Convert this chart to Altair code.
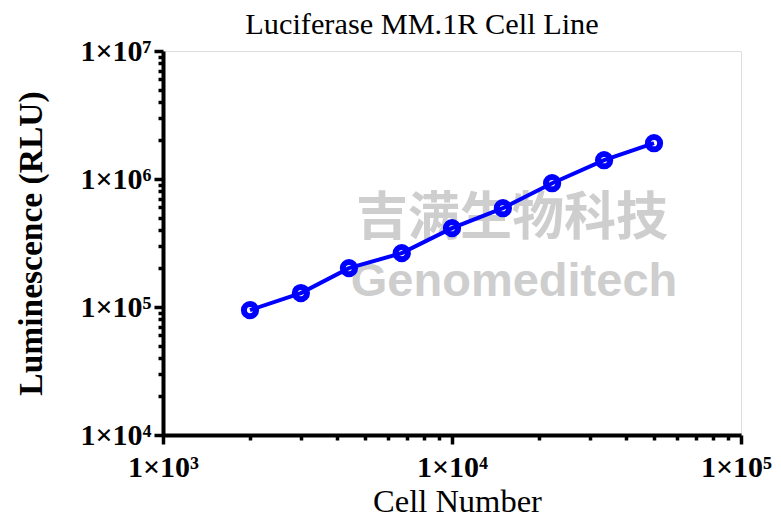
import altair as alt
import pandas as pd

# Data
cells = [2000, 3000, 4400, 6700, 10000, 15000, 22200, 33600, 50000]
rlu = [94600, 128500, 201300, 263500, 413000, 591600, 927000, 1402000, 1904000]

# Axis tick values (decades labelled, minor ticks unlabelled)
x_ticks = [1000, 2000, 3000, 4000, 5000, 6000, 7000, 8000, 9000,
           10000, 20000, 30000, 40000, 50000, 60000, 70000, 80000, 90000, 100000]
y_ticks = [10000, 20000, 30000, 40000, 50000, 60000, 70000, 80000, 90000,
           100000, 200000, 300000, 400000, 500000, 600000, 700000, 800000, 900000,
           1000000, 2000000, 3000000, 4000000, 5000000, 6000000, 7000000, 8000000, 9000000,
           10000000]

watermark_cn = ["吉满生物科技"]
watermark_en = ["Genomeditech"]

df = pd.DataFrame({"cells": cells, "rlu": rlu})

is_major = "abs(log(datum.value)/LN10 - round(log(datum.value)/LN10)) < 0.001"
label_expr = (
    f"({is_major}) ? '1×10' + ['⁰','¹','²','³','⁴','⁵','⁶','⁷'][round(log(datum.value)/LN10)] : ''"
)
SERIF = "Liberation Serif"

def make_axis(values, title, title_weight, title_size, label_pad, tx, ty, angle, label_offset=0):
    return alt.Axis(
        values=values,
        labelExpr=label_expr,
        labelFont=SERIF,
        labelFontWeight="bold",
        labelFontSize=30,
        labelColor="black",
        labelOverlap=False,
        labelFlush=False,
        labelBound=False,
        labelPadding=label_pad,
        labelOffset=label_offset,
        tickSize={"condition": {"test": is_major, "value": 9}, "value": 5},
        tickWidth=3.5,
        tickColor="black",
        domainWidth=4,
        domainColor="black",
        grid=False,
        title=title,
        titleFont=SERIF,
        titleFontWeight=title_weight,
        titleFontSize=title_size,
        titleColor="black",
        titleX=tx,
        titleY=ty,
        titleAngle=angle,
        titleAlign="center",
        titleBaseline="alphabetic",
    )

x_enc = alt.X(
    "cells:Q",
    scale=alt.Scale(type="log", domain=[1000, 100000], nice=False),
    axis=make_axis(
        x_ticks, "Cell Number", "normal", 32.5, 8, 294, 76, 0,
        label_offset={"condition": {"test": "datum.value > 99999", "value": -5}, "value": 0},
    ),
)
y_enc = alt.Y(
    "rlu:Q",
    scale=alt.Scale(type="log", domain=[10000, 10000000], nice=False),
    axis=make_axis(y_ticks, "Luminescence (RLU)", "bold", 33.5, 3, -122, 192, 270),
)

wm_cn = alt.Chart(pd.DataFrame({"t": watermark_cn})).mark_text(
    font="Noto Sans CJK SC", fontWeight="bold", fontSize=52, color="#c9c9c9", opacity=0.9
).encode(text="t:N", x=alt.value(349), y=alt.value(168))

wm_en = alt.Chart(pd.DataFrame({"t": watermark_en})).mark_text(
    font="Liberation Sans", fontWeight="bold", fontSize=47, color="#c9c9c9", opacity=0.9
).encode(text="t:N", x=alt.value(351), y=alt.value(231))

line = alt.Chart(df).mark_line(color="#0000FF", strokeWidth=4).encode(x=x_enc, y=y_enc)
points = alt.Chart(df).mark_point(
    shape="circle", filled=False, color="#0000FF", strokeWidth=6, size=150, opacity=1
).encode(x="cells:Q", y="rlu:Q")

chart = (
    alt.layer(wm_cn, wm_en, line, points)
    .properties(
        width=578,
        height=384,
        title=alt.TitleParams(
            "Luciferase MM.1R Cell Line",
            font=SERIF,
            fontSize=30.3,
            fontWeight="normal",
            color="black",
            anchor="middle",
            dx=-30,
            offset=-4,
        ),
        autosize=alt.AutoSizeParams(type="none"),
        padding={"left": 155, "top": 43, "right": 32, "bottom": 83},
    )
    .configure_view(stroke=None)
    .configure(background="white")
)

chart.save("out.html", embed_options={"renderer": "svg", "actions": False})
